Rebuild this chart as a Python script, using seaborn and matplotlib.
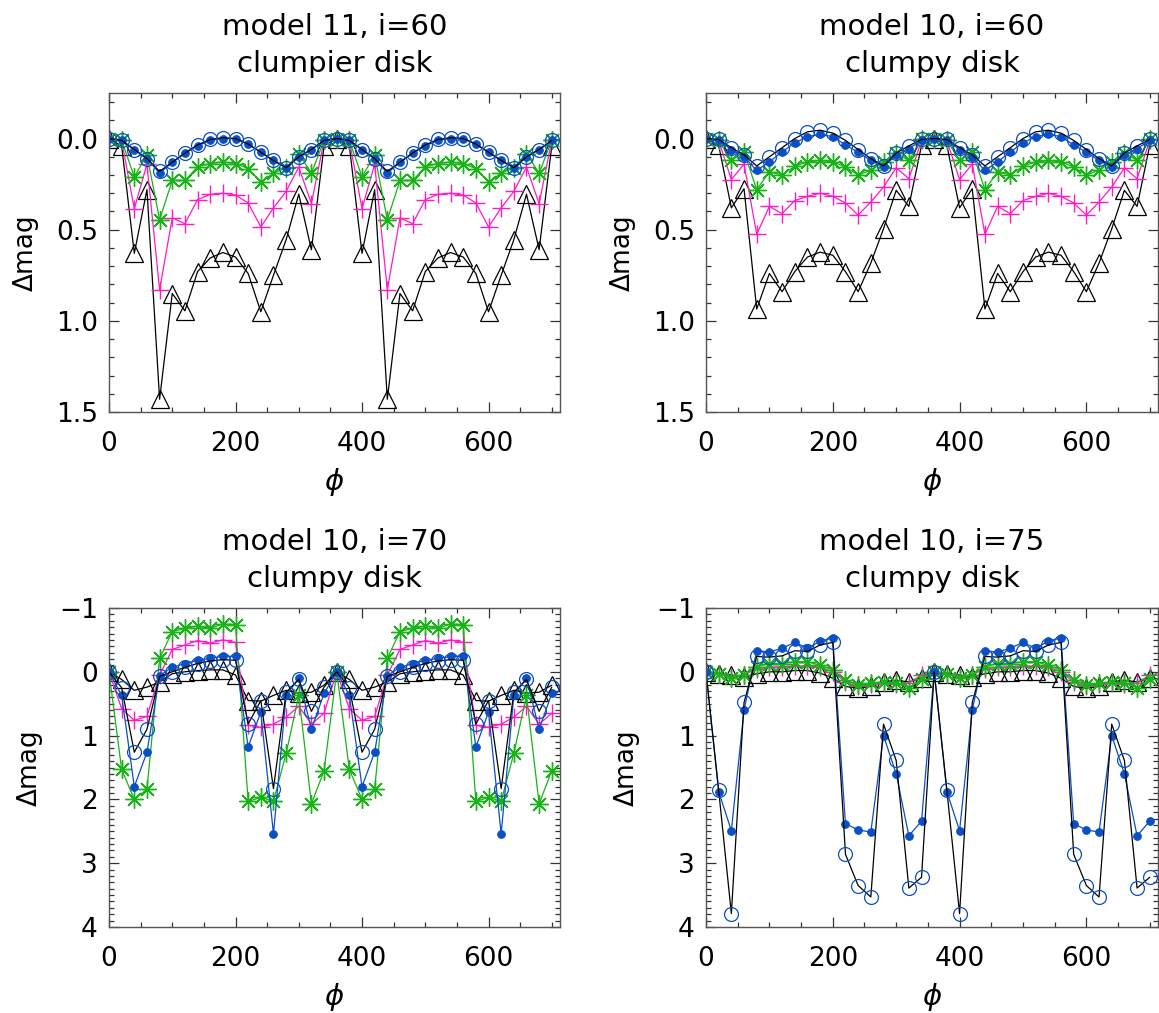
import numpy as np
import pandas as pd
import matplotlib
matplotlib.use("Agg")
import matplotlib.pyplot as plt
from matplotlib.ticker import MultipleLocator
import seaborn as sns

sns.set_style("ticks")
plt.rcParams['font.family'] = ['DejaVu Sans']
plt.rcParams['mathtext.fontset'] = 'dejavusans'
plt.rcParams['text.color'] = 'black'
plt.rcParams['axes.labelcolor'] = 'black'
plt.rcParams['xtick.labelcolor'] = 'black'
plt.rcParams['ytick.labelcolor'] = 'black'

phi = list(range(0, 720, 20))

titles = ["model 11, i=60\nclumpier disk", "model 10, i=60\nclumpy disk",
          "model 10, i=70\nclumpy disk", "model 10, i=75\nclumpy disk"]

# ---- panel 1: model 11, i=60 ----
p1_dot = [0.0, 0.01, 0.06, 0.11, 0.19, 0.13, 0.08, 0.04, 0.01, 0.0, 0.0, 0.03, 0.075, 0.12, 0.16, 0.10, 0.06, 0.01,
          0.0, 0.01, 0.06, 0.11, 0.19, 0.13, 0.08, 0.04, 0.01, 0.0, 0.0, 0.03, 0.075, 0.12, 0.16, 0.10, 0.06, 0.01]
p1_circ = [0.0, 0.01, 0.06, 0.11, 0.18, 0.13, 0.08, 0.035, 0.005, -0.005, 0.0, 0.03, 0.075, 0.12, 0.16, 0.10, 0.06, 0.01,
           0.0, 0.01, 0.06, 0.11, 0.18, 0.13, 0.08, 0.035, 0.005, -0.005, 0.0, 0.03, 0.075, 0.12, 0.16, 0.10, 0.06, 0.01]
p1_ast = [0.0, 0.01, 0.21, 0.09, 0.445, 0.23, 0.23, 0.155, 0.137, 0.128, 0.137, 0.165, 0.238, 0.19, 0.16, 0.082, 0.19, 0.01,
          0.0, 0.01, 0.21, 0.09, 0.445, 0.23, 0.23, 0.155, 0.137, 0.128, 0.137, 0.165, 0.238, 0.19, 0.16, 0.082, 0.19, 0.01]
p1_plus = [0.0, 0.01, 0.385, 0.14, 0.83, 0.435, 0.467, 0.335, 0.306, 0.30, 0.31, 0.353, 0.485, 0.38, 0.29, 0.156, 0.357, 0.01,
           0.0, 0.01, 0.385, 0.14, 0.83, 0.435, 0.467, 0.335, 0.306, 0.30, 0.31, 0.353, 0.485, 0.38, 0.29, 0.156, 0.357, 0.01]
p1_tri = [0.0, 0.04, 0.63, 0.28, 1.43, 0.85, 0.945, 0.73, 0.655, 0.625, 0.65, 0.74, 0.95, 0.75, 0.555, 0.305, 0.61, 0.04,
          0.0, 0.04, 0.63, 0.28, 1.43, 0.85, 0.945, 0.73, 0.655, 0.625, 0.65, 0.74, 0.95, 0.75, 0.555, 0.305, 0.61, 0.04]

# ---- panel 2: model 10, i=60 ----
p2_dot = [0.0, 0.01, 0.06, 0.10, 0.175, 0.128, 0.073, 0.024, -0.01, -0.024, -0.01, 0.035, 0.075, 0.12, 0.155, 0.09, 0.055, 0.01,
          0.0, 0.01, 0.06, 0.10, 0.175, 0.128, 0.073, 0.024, -0.01, -0.024, -0.01, 0.035, 0.075, 0.12, 0.155, 0.09, 0.055, 0.01]
p2_circ = [0.0, 0.005, 0.05, 0.09, 0.15, 0.10, 0.05, 0.0, -0.037, -0.046, -0.03, 0.01, 0.06, 0.11, 0.15, 0.08, 0.04, 0.005,
           0.0, 0.005, 0.05, 0.09, 0.15, 0.10, 0.05, 0.0, -0.037, -0.046, -0.03, 0.01, 0.06, 0.11, 0.15, 0.08, 0.04, 0.005]
p2_ast = [0.0, 0.01, 0.12, 0.073, 0.28, 0.183, 0.20, 0.152, 0.128, 0.12, 0.128, 0.156, 0.20, 0.174, 0.128, 0.079, 0.12, 0.005,
          0.0, 0.01, 0.12, 0.073, 0.28, 0.183, 0.20, 0.152, 0.128, 0.12, 0.128, 0.156, 0.20, 0.174, 0.128, 0.079, 0.12, 0.005]
p2_plus = [0.0, 0.01, 0.225, 0.14, 0.525, 0.372, 0.412, 0.34, 0.317, 0.30, 0.317, 0.353, 0.42, 0.348, 0.266, 0.16, 0.22, 0.01,
           0.0, 0.01, 0.225, 0.14, 0.525, 0.372, 0.412, 0.34, 0.317, 0.30, 0.317, 0.353, 0.42, 0.348, 0.266, 0.16, 0.22, 0.01]
p2_tri = [0.0, 0.037, 0.38, 0.275, 0.935, 0.74, 0.84, 0.73, 0.65, 0.623, 0.64, 0.73, 0.84, 0.683, 0.495, 0.284, 0.372, 0.037,
          0.0, 0.037, 0.38, 0.275, 0.935, 0.74, 0.84, 0.73, 0.65, 0.623, 0.64, 0.73, 0.84, 0.683, 0.495, 0.284, 0.372, 0.037]

# ---- panel 3: model 10, i=70 ----
p3_dot = [0.0, 0.37, 1.80, 1.26, 0.06, -0.07, -0.13, -0.18, -0.21, -0.24, -0.24, 1.18, 0.63, 2.54, 0.37, 0.10, 0.90, 0.34,
          0.0, 0.37, 1.80, 1.26, 0.06, -0.07, -0.13, -0.18, -0.21, -0.24, -0.24, 1.18, 0.63, 2.54, 0.37, 0.10, 0.90, 0.34]
p3_circ = [0.0, 0.25, 1.26, 0.90, 0.07, 0.0, -0.07, -0.13, -0.17, -0.19, -0.18, 0.82, 0.45, 1.83, 0.32, 0.12, 0.62, 0.24,
           0.0, 0.25, 1.26, 0.90, 0.07, 0.0, -0.07, -0.13, -0.17, -0.19, -0.18, 0.82, 0.45, 1.83, 0.32, 0.12, 0.62, 0.24]
p3_ast = [0.0, 1.53, 2.00, 1.84, -0.21, -0.63, -0.68, -0.72, -0.68, -0.75, -0.74, 2.03, 1.97, 2.03, 1.28, 0.37, 2.07, 1.55,
          0.0, 1.53, 2.00, 1.84, -0.21, -0.63, -0.68, -0.72, -0.68, -0.75, -0.74, 2.03, 1.97, 2.03, 1.28, 0.37, 2.07, 1.55]
p3_plus = [0.0, 0.58, 0.76, 0.70, 0.05, -0.35, -0.42, -0.49, -0.45, -0.50, -0.46, 0.84, 0.87, 0.82, 0.71, 0.54, 0.82, 0.65,
           0.0, 0.58, 0.76, 0.70, 0.05, -0.35, -0.42, -0.49, -0.45, -0.50, -0.46, 0.84, 0.87, 0.82, 0.71, 0.54, 0.82, 0.65]
p3_tri = [0.0, 0.12, 0.29, 0.24, 0.16, 0.03, 0.0, -0.02, -0.03, -0.03, 0.05, 0.45, 0.46, 0.37, 0.29, 0.33, 0.32, 0.21,
          0.0, 0.12, 0.29, 0.24, 0.16, 0.03, 0.0, -0.02, -0.03, -0.03, 0.05, 0.45, 0.46, 0.37, 0.29, 0.33, 0.32, 0.21]

# ---- panel 4: model 10, i=75 ----
p4_dot = [0.0, 1.88, 2.49, 0.60, -0.33, -0.31, -0.37, -0.46, -0.37, -0.48, -0.53, 2.38, 2.48, 2.51, 1.00, 1.60, 2.57, 2.34,
          0.0, 1.88, 2.49, 0.60, -0.33, -0.31, -0.37, -0.46, -0.37, -0.48, -0.53, 2.38, 2.48, 2.51, 1.00, 1.60, 2.57, 2.34]
p4_circ = [0.0, 1.86, 3.79, 0.48, -0.24, -0.23, -0.25, -0.33, -0.32, -0.42, -0.46, 2.86, 3.35, 3.53, 0.82, 1.39, 3.39, 3.22,
           0.0, 1.86, 3.79, 0.48, -0.24, -0.23, -0.25, -0.33, -0.32, -0.42, -0.46, 2.86, 3.35, 3.53, 0.82, 1.39, 3.39, 3.22]
p4_ast = [0.0, 0.03, 0.10, 0.05, -0.08, -0.13, -0.13, -0.16, -0.16, -0.10, -0.03, 0.13, 0.21, 0.18, 0.16, 0.18, 0.25, 0.12,
          0.0, 0.03, 0.10, 0.05, -0.08, -0.13, -0.13, -0.16, -0.16, -0.10, -0.03, 0.13, 0.21, 0.18, 0.16, 0.18, 0.25, 0.12]
p4_plus = [0.0, 0.04, 0.09, 0.05, -0.05, -0.07, -0.08, -0.09, -0.09, -0.07, 0.0, 0.16, 0.23, 0.19, 0.17, 0.19, 0.18, 0.05,
           0.0, 0.04, 0.09, 0.05, -0.05, -0.07, -0.08, -0.09, -0.09, -0.07, 0.0, 0.16, 0.23, 0.19, 0.17, 0.19, 0.18, 0.05]
p4_tri = [0.0, 0.03, 0.05, 0.08, 0.03, 0.0, 0.0, -0.02, -0.02, 0.02, 0.10, 0.23, 0.26, 0.23, 0.16, 0.13, 0.16, 0.10,
          0.0, 0.03, 0.05, 0.08, 0.03, 0.0, 0.0, -0.02, -0.02, 0.02, 0.10, 0.23, 0.26, 0.23, 0.16, 0.13, 0.16, 0.10]

panels = [
    (p1_dot, p1_circ, p1_ast, p1_plus, p1_tri),
    (p2_dot, p2_circ, p2_ast, p2_plus, p2_tri),
    (p3_dot, p3_circ, p3_ast, p3_plus, p3_tri),
    (p4_dot, p4_circ, p4_ast, p4_plus, p4_tri),
]

BLUE = "#0a4fc4"
GREEN = "#17b317"
MAGENTA = "#ff1ac6"
BLACK = "black"

W, H = 1159, 1013
fig = plt.figure(figsize=(W / 100, H / 100), dpi=100)

boxes = [(109, 560, 93, 412), (706, 1158, 93, 412),
         (109, 560, 608, 927), (706, 1158, 608, 927)]
ylims = [(1.5, -0.25), (1.5, -0.25), (4.0, -1.0), (4.0, -1.0)]
ymaj = [0.5, 0.5, 1.0, 1.0]
ymin = [0.1, 0.1, 0.1, 0.1]
yfmt = ["%.1f", "%.1f", "%d", "%d"]

asterisk = (8, 2, 0)

for k, (l, r, t, b) in enumerate(boxes):
    ax = fig.add_axes([l / W, 1 - b / H, (r - l) / W, (b - t) / H])
    dot, circ, ast, plus, tri = panels[k]
    df = pd.DataFrame({"phi": phi, "dot": dot, "circ": circ, "ast": ast,
                       "plus": plus, "tri": tri})
    lw = 0.9
    sns.lineplot(data=df, x="phi", y="tri", ax=ax, color=BLACK, lw=lw,
                 marker="^", markersize=13, markerfacecolor="none",
                 markeredgecolor=BLACK, markeredgewidth=0.9)
    sns.lineplot(data=df, x="phi", y="plus", ax=ax, color=MAGENTA, lw=lw,
                 marker="+", markersize=13, markeredgecolor=MAGENTA,
                 markeredgewidth=1.0)
    sns.lineplot(data=df, x="phi", y="ast", ax=ax, color=GREEN, lw=lw,
                 marker=asterisk, markersize=13, markeredgecolor=GREEN,
                 markeredgewidth=1.0)
    sns.lineplot(data=df, x="phi", y="dot", ax=ax, color=BLUE, lw=lw,
                 marker="o", markersize=5.5, markerfacecolor=BLUE,
                 markeredgecolor=BLUE)
    sns.lineplot(data=df, x="phi", y="circ", ax=ax, color=BLACK, lw=lw,
                 marker="o", markersize=10, markerfacecolor="none",
                 markeredgecolor=BLUE, markeredgewidth=0.9)

    ax.set_xlim(0, 713)
    ax.set_ylim(*ylims[k])
    ax.xaxis.set_major_locator(MultipleLocator(200))
    ax.xaxis.set_minor_locator(MultipleLocator(50))
    ax.yaxis.set_major_locator(MultipleLocator(ymaj[k]))
    ax.yaxis.set_minor_locator(MultipleLocator(ymin[k]))
    ax.yaxis.set_major_formatter(matplotlib.ticker.FormatStrFormatter(yfmt[k]))
    if k >= 2:
        ax.set_yticks([-1, 0, 1, 2, 3, 4])
        ax.set_yticklabels(["\u22121", "0", "1", "2", "3", "4"])
    ax.tick_params(which="both", direction="in", top=True, right=True,
                   width=0.9, color="#333333")
    ax.tick_params(which="major", length=7)
    ax.tick_params(which="minor", length=3.5)
    ax.tick_params(axis="x", which="major", labelsize=19, pad=14)
    ax.tick_params(axis="y", which="major", labelsize=19, pad=8)
    for s in ax.spines.values():
        s.set_linewidth(1.0)
        s.set_color("#555555")
    ax.set_xlabel(r"$\phi$", fontsize=21, labelpad=6, color="black")
    ax.set_ylabel("\u0394mag", fontsize=19, labelpad=12, color="black")
    ax.set_title(titles[k], fontsize=21, linespacing=1.4, pad=15, color="black")

fig.savefig("out.png", dpi=100)
